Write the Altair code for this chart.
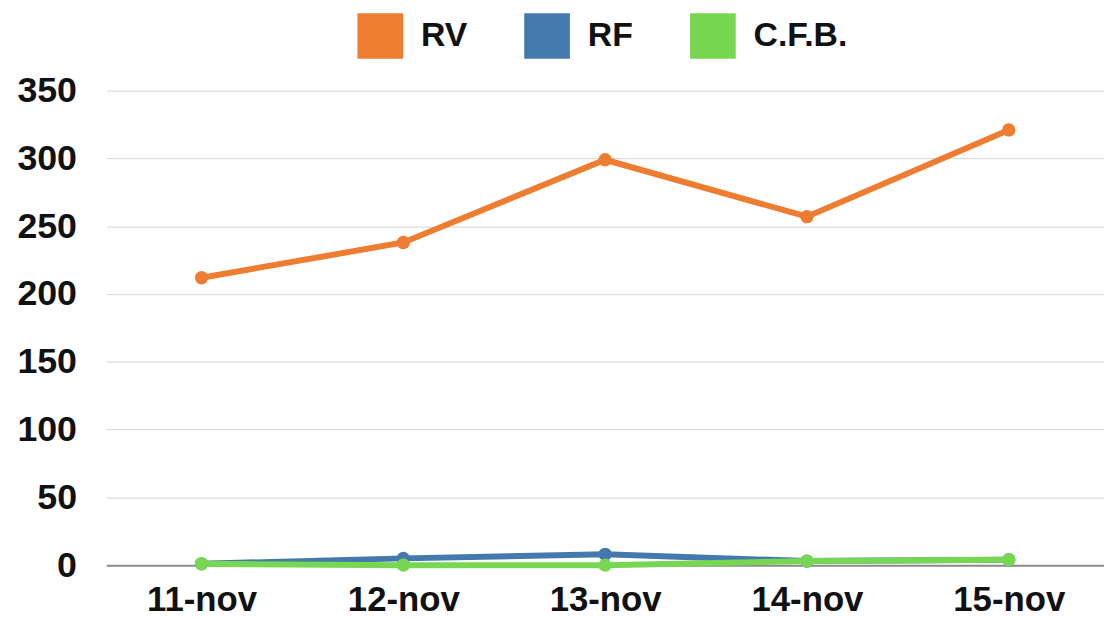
import altair as alt
import pandas as pd

dates = ["11-nov", "12-nov", "13-nov", "14-nov", "15-nov"]
series = ["RV", "RF", "C.F.B."]
rv = [212, 238, 299, 257, 321]
rf = [1, 5, 8, 3, 4]
cfb = [1, 0, 0, 3, 4]
colors = ["#EE7D31", "#4479AD", "#77D752"]
y_ticks = [0, 50, 100, 150, 200, 250, 300, 350]

rows = []
for s, vals in zip(series, [rv, rf, cfb]):
    for d, v in zip(dates, vals):
        rows.append({"date": d, "serie": s, "value": v})
df = pd.DataFrame(rows)

FONT = "Liberation Sans"

color = alt.Color(
    "serie:N",
    scale=alt.Scale(domain=series, range=colors),
    legend=alt.Legend(
        title=None,
        orient="none",
        legendX=253,
        legendY=-78,
        direction="horizontal",
        symbolType="square",
        symbolSize=2116,
        symbolStrokeWidth=0,
        symbolOpacity=1,
        labelFontSize=34,
        labelFont=FONT,
        labelFontWeight="bold",
        labelColor="#111111",
        labelOffset=18,
        columnPadding=57,
        padding=0,
    ),
)

base = alt.Chart(df).encode(
    x=alt.X(
        "date:N",
        sort=dates,
        title=None,
        scale=alt.Scale(type="point", padding=0.472),
        axis=alt.Axis(
            labelAngle=0,
            labelFontSize=35,
            labelFont=FONT,
            labelFontWeight="bold",
            labelColor="#111111",
            labelPadding=18,
            ticks=False,
            domain=True,
            domainColor="#8a8a8a",
            domainWidth=2,
            grid=False,
        ),
    ),
    y=alt.Y(
        "value:Q",
        title=None,
        scale=alt.Scale(domain=[0, 350], nice=False),
        axis=alt.Axis(
            values=y_ticks,
            labelFontSize=36,
            labelFont=FONT,
            labelFontWeight="bold",
            labelColor="#111111",
            labelPadding=30,
            ticks=False,
            domain=False,
            grid=True,
            gridColor="#d4d4d4",
            gridWidth=1,
        ),
    ),
    color=color,
)

layers = [
    base.transform_filter(alt.datum.serie == s).mark_line(
        strokeWidth=6,
        point=alt.OverlayMarkDef(size=180, filled=True, opacity=1),
    )
    for s in series
]

chart = (
    alt.layer(*layers)
    .properties(
        width=1005,
        height=478,
        padding={"left": 99, "top": 81, "right": 0, "bottom": 50},
        autosize=alt.AutoSizeParams(type="none"),
    )
    .configure_view(stroke=None)
)

chart.save("out.html", embed_options={"renderer": "svg", "actions": False})
